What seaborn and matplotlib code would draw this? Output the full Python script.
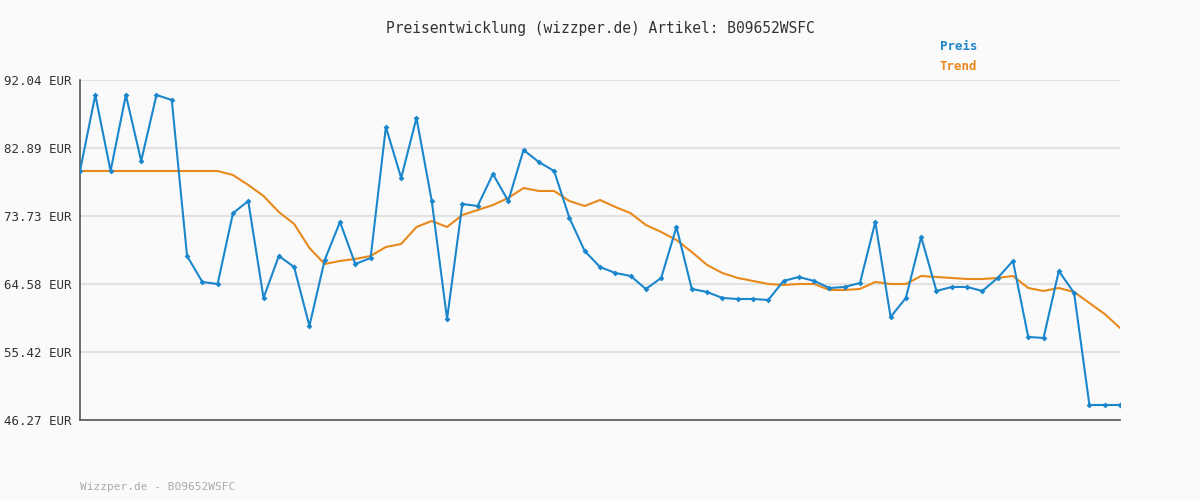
import matplotlib
matplotlib.use("Agg")
import matplotlib.pyplot as plt
import seaborn as sns
import pandas as pd

preis = [79.79, 90.02, 79.79, 90.02, 81.14, 90.02, 89.35, 68.35, 64.85, 64.58,
         74.11, 75.75, 62.70, 68.35, 66.87, 58.93, 67.81, 72.93, 67.27, 68.08,
         85.71, 78.85, 86.93, 75.75, 59.87, 75.35, 75.08, 79.39, 75.75, 82.62,
         81.00, 79.79, 73.47, 69.02, 66.87, 66.06, 65.66, 63.91, 65.39, 72.25,
         63.91, 63.50, 62.70, 62.56, 62.56, 62.43, 64.99, 65.52, 64.99, 64.04,
         64.18, 64.72, 72.93, 60.14, 62.70, 70.91, 63.64, 64.18, 64.18, 63.64,
         65.39, 67.68, 57.45, 57.31, 66.33, 63.37, 48.29, 48.29, 48.29]
trend = [79.79, 79.79, 79.79, 79.79, 79.79, 79.79, 79.79, 79.79, 79.79, 79.79,
         79.25, 77.91, 76.43, 74.27, 72.66, 69.43, 67.27, 67.68, 67.95, 68.35,
         69.56, 69.97, 72.25, 73.06, 72.25, 73.87, 74.54, 75.21, 76.16, 77.50,
         77.10, 77.10, 75.75, 75.08, 75.89, 74.95, 74.11, 72.52, 71.58, 70.50,
         68.89, 67.14, 66.06, 65.39, 64.99, 64.58, 64.45, 64.58, 64.58, 63.77,
         63.77, 63.91, 64.85, 64.58, 64.58, 65.66, 65.52, 65.39, 65.25, 65.25,
         65.39, 65.66, 64.04, 63.64, 64.04, 63.50, 62.02, 60.54, 58.66]
yticks = [46.27, 55.42, 64.58, 73.73, 82.89, 92.04]
title = "Preisentwicklung (wizzper.de) Artikel: B09652WSFC"

df = pd.DataFrame({"i": range(len(preis)), "Preis": preis, "Trend": trend})

sns.set_style("white")
plt.rcParams["font.family"] = ["DejaVu Sans Mono"]
bg = "#fafafa"
fig = plt.figure(figsize=(12, 5), dpi=100, facecolor=bg)
ax = fig.add_axes([80/1200, 80/500, 1040/1200, 340/500], facecolor=bg)

for y in yticks:
    ax.axhline(y, color="#e2e2e2", lw=1.5, zorder=0)
sns.lineplot(data=df, x="i", y="Trend", color="#e8891c", lw=1.5, ax=ax, zorder=2)
sns.lineplot(data=df, x="i", y="Preis", color="#1a86cc", lw=1.5, marker="D",
             markersize=3, markeredgewidth=0, ax=ax, zorder=3)

ax.set_xlim(0, len(preis) - 1)
ax.set_ylim(yticks[0], yticks[-1])
ax.set_yticks(yticks)
ax.set_yticklabels([f"{v:.2f} EUR" for v in yticks], fontsize=9, color="#333333")
ax.set_xticks([])
ax.set_xlabel("")
ax.set_ylabel("")
for s in ["top", "right"]:
    ax.spines[s].set_visible(False)
for s in ["left", "bottom"]:
    ax.spines[s].set_color("#555555")
    ax.spines[s].set_linewidth(1.2)
ax.tick_params(axis="y", length=4, color="#555555", pad=2)

fig.text(0.5, 1 - 28/500, title, ha="center", va="center", fontsize=10.5, color="#333333")
fig.text(940/1200, 1 - 47/500, "Preis", ha="left", va="center", fontsize=9, color="#1a86cc", weight="bold")
fig.text(940/1200, 1 - 67/500, "Trend", ha="left", va="center", fontsize=9, color="#e8891c", weight="bold")
fig.text(80/1200, 1 - 487/500, "Wizzper.de - B09652WSFC", ha="left", va="center", fontsize=8, color="#aaaaaa")

fig.savefig("out.png", dpi=100, facecolor=bg)
